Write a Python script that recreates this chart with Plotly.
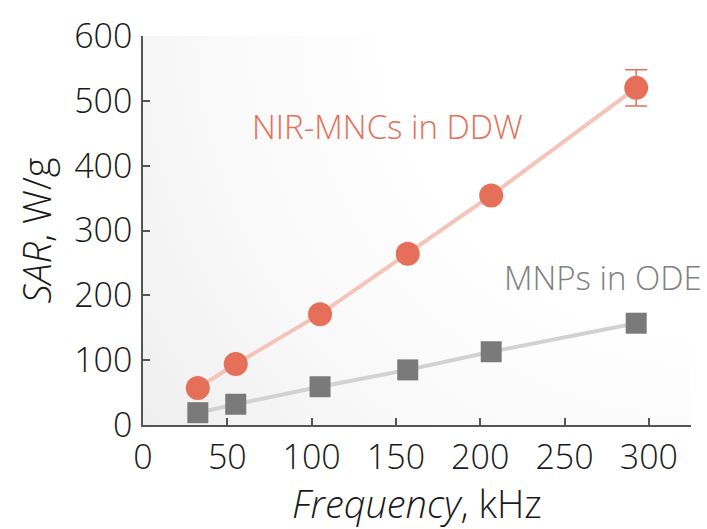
import base64
import plotly.graph_objects as go

# Frequency (kHz) and specific absorption rate (W/g)
freq_nir = [32.5, 55, 105, 157, 206.5, 292.5]
sar_nir = [57, 94, 171, 264, 354, 520]
sar_nir_err = [None, None, None, None, None, 28]

freq_mnp = [32.5, 55, 105, 157, 206.5, 292.5]
sar_mnp = [19, 32, 59, 85, 113, 157]

x_ticks = [0, 50, 100, 150, 200, 250, 300]
y_ticks = [0, 100, 200, 300, 400, 500, 600]

RED = "#E56F58"
RED_LINE = "#F5C4B8"
GRAY = "#7A7A7A"
GRAY_LINE = "#D2D2D2"
FONT = "Open Sans"

# soft radial shading behind the data, lightest towards the upper right
svg = (
    '<svg xmlns="http://www.w3.org/2000/svg" width="548" height="392" viewBox="0 0 548 392">'
    '<defs><radialGradient id="g" cx="560" cy="-20" r="690" gradientUnits="userSpaceOnUse">'
    '<stop offset="0" stop-color="#ffffff"/>'
    '<stop offset="0.45" stop-color="#ffffff"/>'
    '<stop offset="0.75" stop-color="#f8f8f8"/>'
    '<stop offset="1" stop-color="#efefef"/>'
    '</radialGradient></defs>'
    '<rect width="548" height="392" fill="url(#g)"/></svg>'
)
bg_src = "data:image/svg+xml;base64," + base64.b64encode(svg.encode()).decode()

fig = go.Figure()

fig.add_trace(go.Scatter(
    x=freq_mnp, y=sar_mnp, mode="lines+markers",
    line=dict(color=GRAY_LINE, width=4),
    marker=dict(symbol="square", size=21, color=GRAY),
    showlegend=False, hoverinfo="skip",
))

fig.add_trace(go.Scatter(
    x=freq_nir, y=sar_nir, mode="lines+markers",
    line=dict(color=RED_LINE, width=4),
    marker=dict(symbol="circle", size=24, color=RED),
    error_y=dict(type="data", array=sar_nir_err, visible=True,
                 color=RED, thickness=1.5, width=11),
    showlegend=False, hoverinfo="skip",
))

fig.add_annotation(x=145, y=460, xref="x", yref="y", text="NIR-MNCs in DDW",
                   showarrow=False, font=dict(family=FONT, size=33, color=RED, weight=300))
fig.add_annotation(x=273, y=227, xref="x", yref="y", text="MNPs in ODE",
                   showarrow=False, font=dict(family=FONT, size=33, color="#808080", weight=300))

fig.add_layout_image(dict(
    source=bg_src, xref="paper", yref="paper", x=0, y=1,
    sizex=1, sizey=1, sizing="stretch", xanchor="left", yanchor="top",
    layer="below",
))

axis_common = dict(
    showline=True, linecolor="#555555", linewidth=1.5,
    ticks="inside", ticklen=7, tickwidth=1.5, tickcolor="#555555",
    showgrid=False, zeroline=False, mirror=False,
    tickfont=dict(family=FONT, size=34, color="#1a1a1a", weight=300),
)

fig.update_xaxes(
    range=[0, 325], tickvals=x_ticks, ticktext=[str(v) for v in x_ticks],
    title=dict(text="<i>Frequency</i>, kHz", standoff=6,
               font=dict(family=FONT, size=38, color="#1a1a1a", weight=300)),
    ticklabelstandoff=1,
    **axis_common,
)
fig.update_yaxes(
    range=[0, 600], tickvals=y_ticks, ticktext=[str(v) for v in y_ticks],
    title=dict(text="<i>SAR</i>, W/g", standoff=11,
               font=dict(family=FONT, size=38, color="#1a1a1a", weight=300)),
    ticklabelstandoff=2,
    **axis_common,
)

fig.update_layout(
    width=707, height=529,
    margin=dict(l=143, r=16, t=33, b=104),
    paper_bgcolor="white", plot_bgcolor="rgba(0,0,0,0)",
    font=dict(family=FONT),
)

fig.write_html("out.html")
